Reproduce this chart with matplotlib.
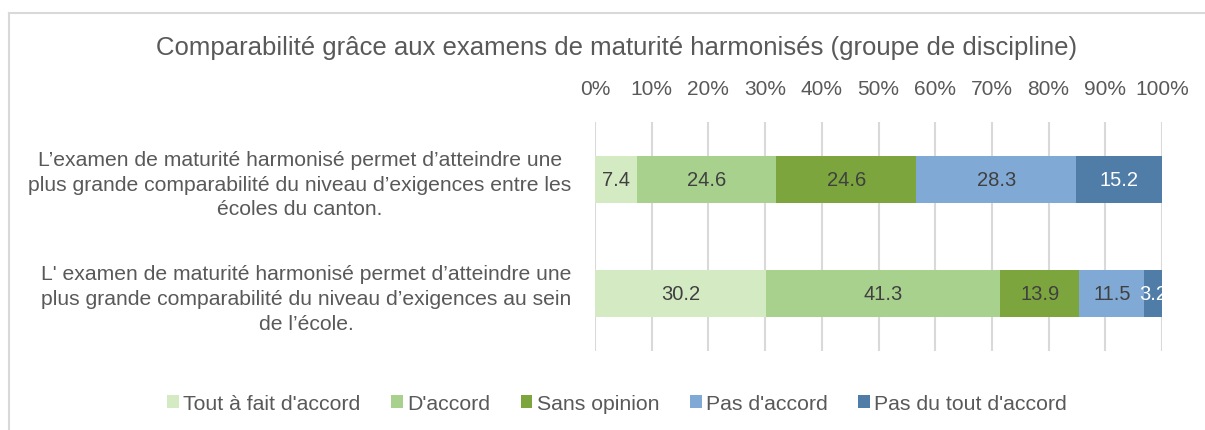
import matplotlib.pyplot as plt
from matplotlib.lines import Line2D
import numpy as np

plt.rcParams['font.family'] = ['Liberation Sans', 'DejaVu Sans']

questions = [
    "L\u2019examen de maturité harmonisé permet d\u2019atteindre une\n"
    "plus grande comparabilité du niveau d\u2019exigences entre les\n"
    "écoles du canton.",
    "L' examen de maturité harmonisé permet d\u2019atteindre une\n"
    "plus grande comparabilité du niveau d\u2019exigences au sein\n"
    "de l\u2019école.",
]
answers = ["Tout à fait d'accord", "D'accord", "Sans opinion",
           "Pas d'accord", "Pas du tout d'accord"]
tout_a_fait = [7.4, 30.2]
d_accord = [24.6, 41.3]
sans_opinion = [24.6, 13.9]
pas_d_accord = [28.3, 11.5]
pas_du_tout = [15.2, 3.2]

colors = ['#D4EAC3', '#A9D18E', '#7CA63D', '#80AAD5', '#507DA8']
text_colors = ['#404040', '#404040', '#404040', '#404040', 'white']

fig = plt.figure(figsize=(12.05, 4.31), dpi=100)
ax = fig.add_axes([0.4938, 0.1833, 0.4705, 0.5313])

series = [tout_a_fait, d_accord, sans_opinion, pas_d_accord, pas_du_tout]
y = np.arange(len(questions))
left = np.zeros(len(questions))
for vals, name, col, tc in zip(series, answers, colors, text_colors):
    vals = np.array(vals)
    ax.barh(y, vals, left=left, height=0.41, color=col, label=name, zorder=2)
    for yi, l, v in zip(y, left, vals):
        ax.text(l + v / 2, yi, f"{v:.1f}", ha='center', va='center',
                fontsize=14.5, color=tc, zorder=3)
    left += vals

ax.set_xlim(0, 100)
ax.set_ylim(1.5, -0.5)
ax.set_xticks(np.arange(0, 101, 10))
ax.set_xticklabels([f"{t}%" for t in range(0, 101, 10)])
ax.xaxis.tick_top()
ax.tick_params(axis='x', length=0, pad=17, labelsize=15, labelcolor='#595959')
ax.set_yticks(y)
ax.set_yticklabels(questions, multialignment='center', linespacing=1.38)
ax.tick_params(axis='y', length=0, pad=17, labelsize=15.2, labelcolor='#595959')
ax.grid(axis='x', color='#D9D9D9', linewidth=1.5, zorder=0)
for s in ax.spines.values():
    s.set_visible(False)

fig.text(0.512, 0.888, "Comparabilité grâce aux examens de maturité harmonisés (groupe de discipline)",
         ha='center', va='center', fontsize=18.5, color='#595959')

fig.legend(loc='center', bbox_to_anchor=(0.512, 0.062), ncol=5, frameon=False,
           fontsize=15.3, labelcolor='#595959', handlelength=0.55, handleheight=0.55,
           handletextpad=0.2, columnspacing=1.45)

# thin frame on the top and left edges
fig.add_artist(Line2D([9 / 1205, 1], [1 - 14 / 431, 1 - 14 / 431],
                      color='#D9D9D9', lw=1.5, transform=fig.transFigure))
fig.add_artist(Line2D([9 / 1205, 9 / 1205], [0, 1 - 14 / 431],
                      color='#D9D9D9', lw=1.5, transform=fig.transFigure))

fig.savefig('out.png', dpi=100, facecolor='white')
